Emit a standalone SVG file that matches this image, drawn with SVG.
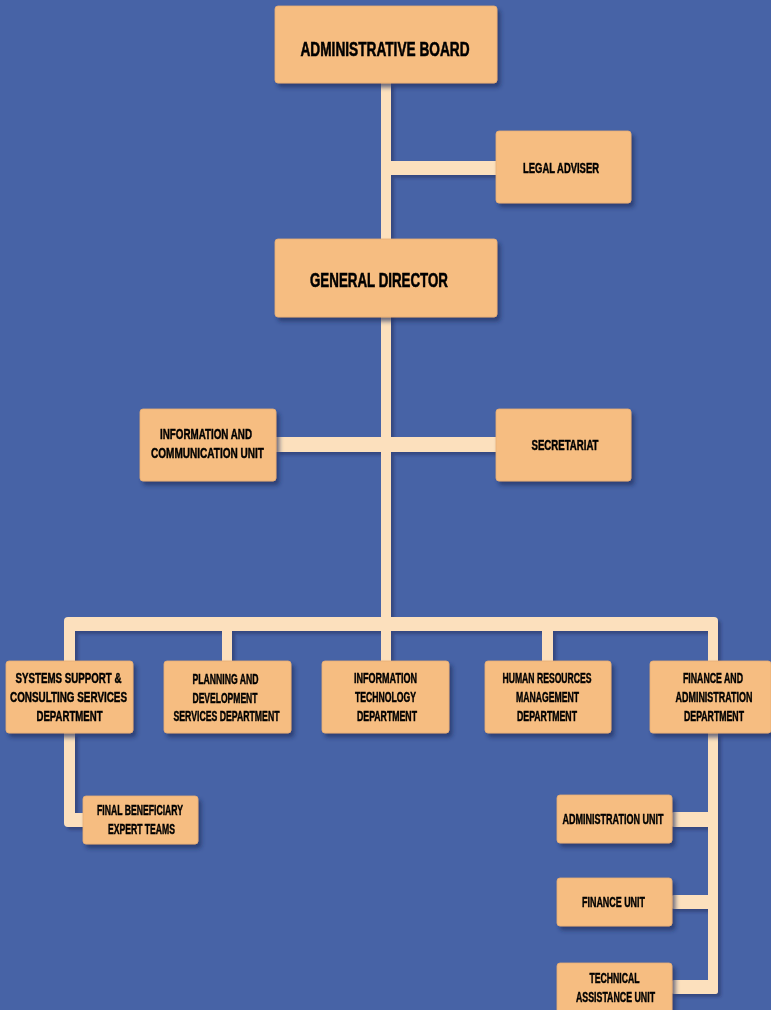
<svg xmlns="http://www.w3.org/2000/svg" width="771" height="1010" viewBox="0 0 771 1010">
<defs>
<filter id="sh" x="-10%" y="-10%" width="130%" height="140%">
<feDropShadow dx="3" dy="4" stdDeviation="2" flood-color="#1c2a5a" flood-opacity="0.65"/>
</filter>
<filter id="shc" x="-10%" y="-10%" width="130%" height="140%">
<feDropShadow dx="3" dy="3" stdDeviation="1.5" flood-color="#1c2a5a" flood-opacity="0.5"/>
</filter>
<style>
.box{fill:#F6BD81;stroke:#E8AE74;stroke-width:0.8;}
.c{fill:#FCE0BD;}
text{font-family:"Liberation Sans",Arial,sans-serif;font-weight:bold;fill:#000;stroke:#000;stroke-width:0.45;text-anchor:middle;}
.s{font-size:14px;}
.l{font-size:20px;stroke-width:0.6;}
</style>
</defs>
<rect width="771" height="1010" fill="#4763A6"/>
<g id="connectors" filter="url(#shc)">
<rect class="c" x="381" y="83" width="10" height="542"/>
<rect class="c" x="391" y="161" width="106" height="14"/>
<rect class="c" x="276" y="437" width="221" height="15"/>
<rect class="c" x="64" y="617" width="654" height="14" rx="4"/>
<rect class="c" x="64" y="625" width="11" height="37"/>
<rect class="c" x="222" y="625" width="10" height="37"/>
<rect class="c" x="381" y="625" width="10" height="37"/>
<rect class="c" x="542" y="625" width="11" height="37"/>
<rect class="c" x="708" y="625" width="10" height="37"/>
<path class="c" d="M64 733 H75 V813 H84 V827 H68 Q64 827 64 823 Z"/>
<path class="c" d="M708 733 H718 V990 Q718 994 714 994 H708 Z"/>
<rect class="c" x="671" y="812" width="47" height="15" rx="3"/>
<rect class="c" x="671" y="895" width="47" height="14" rx="3"/>
<rect class="c" x="671" y="980" width="47" height="14" rx="3"/>
</g>
<g id="n-board" filter="url(#sh)"><rect class="box" x="275" y="6" width="222" height="77" rx="3"/><text class="l" x="385" y="56" textLength="169" lengthAdjust="spacingAndGlyphs">ADMINISTRATIVE BOARD</text></g>
<g id="n-legal" filter="url(#sh)"><rect class="box" x="496" y="131" width="135" height="72" rx="3"/><text class="s" x="561" y="173" textLength="76" lengthAdjust="spacingAndGlyphs">LEGAL ADVISER</text></g>
<g id="n-director" filter="url(#sh)"><rect class="box" x="275" y="239" width="222" height="78" rx="3"/><text class="l" x="379" y="287" textLength="138" lengthAdjust="spacingAndGlyphs">GENERAL DIRECTOR</text></g>
<g id="n-info" filter="url(#sh)"><rect class="box" x="140" y="409" width="136" height="72" rx="3"/><text class="s" x="206" y="439" textLength="92" lengthAdjust="spacingAndGlyphs">INFORMATION AND</text><text class="s" x="207.5" y="458" textLength="113" lengthAdjust="spacingAndGlyphs">COMMUNICATION UNIT</text></g>
<g id="n-secretariat" filter="url(#sh)"><rect class="box" x="496" y="409" width="135" height="72" rx="3"/><text class="s" x="565" y="450" textLength="67" lengthAdjust="spacingAndGlyphs">SECRETARIAT</text></g>
<g id="n-systems" filter="url(#sh)"><rect class="box" x="6" y="661" width="127" height="72" rx="3"/><text class="s" x="68.5" y="683" textLength="106" lengthAdjust="spacingAndGlyphs">SYSTEMS SUPPORT &amp;</text><text class="s" x="68.5" y="702" textLength="117" lengthAdjust="spacingAndGlyphs">CONSULTING SERVICES</text><text class="s" x="69.5" y="721" textLength="66" lengthAdjust="spacingAndGlyphs">DEPARTMENT</text></g>
<g id="n-planning" filter="url(#sh)"><rect class="box" x="164" y="661" width="127" height="72" rx="3"/><text class="s" x="225.5" y="684" textLength="66" lengthAdjust="spacingAndGlyphs">PLANNING AND</text><text class="s" x="225" y="703" textLength="65" lengthAdjust="spacingAndGlyphs">DEVELOPMENT</text><text class="s" x="226.5" y="721" textLength="106" lengthAdjust="spacingAndGlyphs">SERVICES DEPARTMENT</text></g>
<g id="n-it" filter="url(#sh)"><rect class="box" x="322" y="661" width="127" height="72" rx="3"/><text class="s" x="385.5" y="683" textLength="63" lengthAdjust="spacingAndGlyphs">INFORMATION</text><text class="s" x="385.5" y="702" textLength="61" lengthAdjust="spacingAndGlyphs">TECHNOLOGY</text><text class="s" x="387" y="721" textLength="60" lengthAdjust="spacingAndGlyphs">DEPARTMENT</text></g>
<g id="n-hr" filter="url(#sh)"><rect class="box" x="485" y="661" width="126" height="72" rx="3"/><text class="s" x="547" y="683" textLength="89" lengthAdjust="spacingAndGlyphs">HUMAN RESOURCES</text><text class="s" x="547.5" y="702" textLength="63" lengthAdjust="spacingAndGlyphs">MANAGEMENT</text><text class="s" x="547" y="721" textLength="60" lengthAdjust="spacingAndGlyphs">DEPARTMENT</text></g>
<g id="n-finance" filter="url(#sh)"><rect class="box" x="650" y="661" width="121" height="72" rx="3"/><text class="s" x="713" y="683" textLength="60" lengthAdjust="spacingAndGlyphs">FINANCE AND</text><text class="s" x="714" y="702" textLength="77" lengthAdjust="spacingAndGlyphs">ADMINISTRATION</text><text class="s" x="714" y="721" textLength="60" lengthAdjust="spacingAndGlyphs">DEPARTMENT</text></g>
<g id="n-final" filter="url(#sh)"><rect class="box" x="83" y="796" width="115" height="48" rx="3"/><text class="s" x="140" y="815" textLength="86" lengthAdjust="spacingAndGlyphs">FINAL BENEFICIARY</text><text class="s" x="141.5" y="834" textLength="67" lengthAdjust="spacingAndGlyphs">EXPERT TEAMS</text></g>
<g id="n-adminunit" filter="url(#sh)"><rect class="box" x="557" y="795" width="115" height="48" rx="3"/><text class="s" x="613" y="824" textLength="101" lengthAdjust="spacingAndGlyphs">ADMINISTRATION UNIT</text></g>
<g id="n-financeunit" filter="url(#sh)"><rect class="box" x="557" y="878" width="115" height="48" rx="3"/><text class="s" x="613.5" y="907" textLength="63" lengthAdjust="spacingAndGlyphs">FINANCE UNIT</text></g>
<g id="n-technical" filter="url(#sh)"><rect class="box" x="557" y="963" width="115" height="60" rx="3"/><text class="s" x="614.5" y="983" textLength="50" lengthAdjust="spacingAndGlyphs">TECHNICAL</text><text class="s" x="615.5" y="1002" textLength="79" lengthAdjust="spacingAndGlyphs">ASSISTANCE UNIT</text></g>
</svg>
